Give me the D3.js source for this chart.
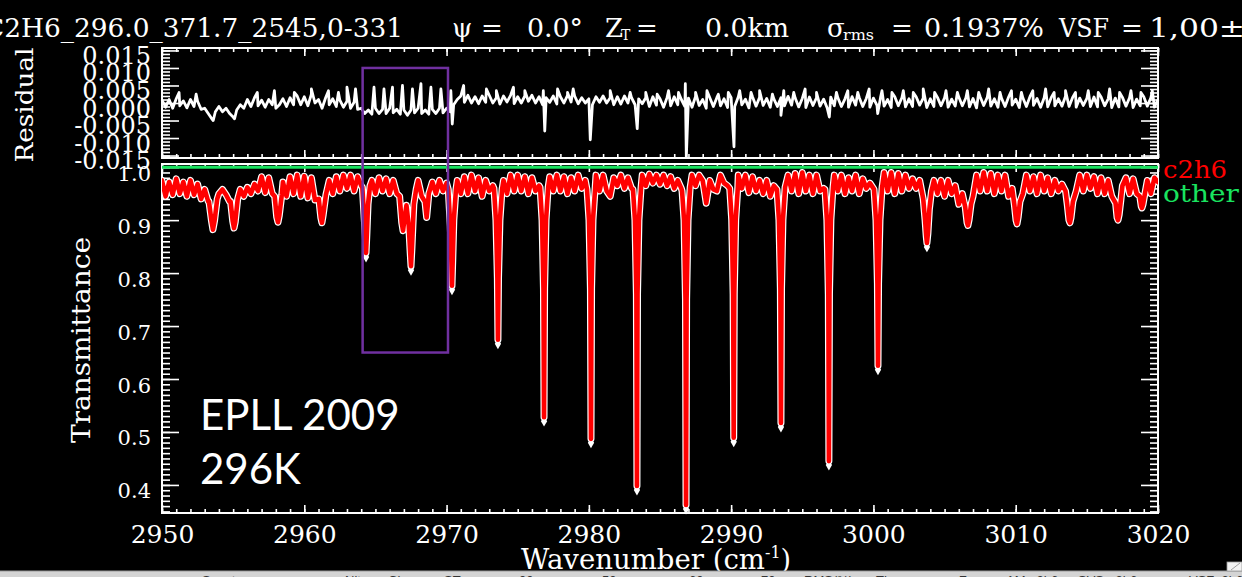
<!DOCTYPE html>
<html>
<head>
<meta charset="utf-8">
<script src="https://cdn.jsdelivr.net/npm/d3@7"></script>
<style>
  html, body { margin: 0; padding: 0; background: #000; overflow: hidden; }
  svg { display: block; }
</style>
</head>
<body>
<svg id="chart" width="1242" height="577"></svg>
<script>
// ---------------- data ----------------
const wavenumberTicks = [2950, 2960, 2970, 2980, 2990, 3000, 3010, 3020];
const transmittanceTicks = [0.4, 0.5, 0.6, 0.7, 0.8, 0.9, 1.0];
const residualTicks = [-0.015, -0.010, -0.005, 0.000, 0.005, 0.010, 0.015];

// calculated transmittance sampled every 0.25 cm-1 from 2950 to 3020
const gridStart = 2950, gridStep = 0.25;
const continuumT = [
  0.975, 0.945, 0.972, 0.948,  // 2950
  0.978, 0.950, 0.972, 0.945,  // 2951
  0.975, 0.948, 0.968, 0.940,  // 2952
  0.958, 0.935, 0.900, 0.920,  // 2953
  0.950, 0.958, 0.948, 0.935,  // 2954
  0.900, 0.920, 0.958, 0.945,  // 2955
  0.962, 0.950, 0.968, 0.955,  // 2956
  0.982, 0.952, 0.980, 0.950,  // 2957
  0.940, 0.920, 0.972, 0.945,  // 2958
  0.982, 0.950, 0.985, 0.945,  // 2959
  0.983, 0.942, 0.980, 0.938,  // 2960
  0.955, 0.910, 0.930, 0.975,  // 2961
  0.950, 0.982, 0.955, 0.985,  // 2962
  0.960, 0.985, 0.955, 0.982,  // 2963
  0.965, 0.900, 0.860, 0.975,  // 2964
  0.950, 0.980, 0.955, 0.978,  // 2965
  0.950, 0.975, 0.950, 0.945,  // 2966
  0.900, 0.900, 0.850, 0.920,  // 2967
  0.975, 0.945, 0.940, 0.950,  // 2968
  0.972, 0.950, 0.975, 0.955,  // 2969
  0.970, 0.900, 0.900, 0.975,  // 2970
  0.950, 0.982, 0.950, 0.985,  // 2971
  0.955, 0.980, 0.945, 0.975,  // 2972
  0.955, 0.965, 0.900, 0.900,  // 2973
  0.975, 0.950, 0.985, 0.955,  // 2974
  0.985, 0.955, 0.982, 0.950,  // 2975
  0.980, 0.955, 0.965, 0.900,  // 2976
  0.900, 0.982, 0.955, 0.985,  // 2977
  0.955, 0.982, 0.950, 0.980,  // 2978
  0.955, 0.985, 0.960, 0.975,  // 2979
  0.900, 0.900, 0.985, 0.955,  // 2980
  0.985, 0.955, 0.945, 0.980,  // 2981
  0.965, 0.985, 0.960, 0.980,  // 2982
  0.960, 0.900, 0.900, 0.985,  // 2983
  0.965, 0.987, 0.970, 0.985,  // 2984
  0.968, 0.985, 0.965, 0.982,  // 2985
  0.960, 0.975, 0.960, 0.900,  // 2986
  0.900, 0.985, 0.965, 0.985,  // 2987
  0.975, 0.932, 0.975, 0.958,  // 2988
  0.955, 0.985, 0.970, 0.965,  // 2989
  0.900, 0.900, 0.985, 0.960,  // 2990
  0.985, 0.952, 0.982, 0.955,  // 2991
  0.975, 0.950, 0.975, 0.945,  // 2992
  0.965, 0.955, 0.900, 0.900,  // 2993
  0.985, 0.955, 0.988, 0.950,  // 2994
  0.990, 0.955, 0.985, 0.950,  // 2995
  0.985, 0.955, 0.960, 0.900,  // 2996
  0.900, 0.985, 0.955, 0.985,  // 2997
  0.950, 0.980, 0.955, 0.985,  // 2998
  0.950, 0.978, 0.960, 0.970,  // 2999
  0.960, 0.900, 0.900, 0.990,  // 3000
  0.955, 0.990, 0.950, 0.988,  // 3001
  0.955, 0.985, 0.960, 0.978,  // 3002
  0.960, 0.975, 0.900, 0.900,  // 3003
  0.900, 0.975, 0.950, 0.975,  // 3004
  0.945, 0.975, 0.950, 0.965,  // 3005
  0.930, 0.950, 0.900, 0.900,  // 3006
  0.945, 0.985, 0.955, 0.990,  // 3007
  0.955, 0.988, 0.950, 0.985,  // 3008
  0.955, 0.985, 0.945, 0.960,  // 3009
  0.900, 0.900, 0.950, 0.985,  // 3010
  0.955, 0.982, 0.950, 0.985,  // 3011
  0.955, 0.980, 0.950, 0.975,  // 3012
  0.955, 0.968, 0.955, 0.900,  // 3013
  0.900, 0.955, 0.985, 0.955,  // 3014
  0.985, 0.960, 0.982, 0.950,  // 3015
  0.980, 0.950, 0.975, 0.945,  // 3016
  0.960, 0.900, 0.965, 0.980,  // 3017
  0.950, 0.978, 0.950, 0.940,  // 3018
  0.900, 0.975, 0.950, 0.980,  // 3019
  0.972                        // 3020
];

// absorption line cores, [wavenumber, transmittance]
const lineCores = [
  [[2953.30,0.935],[2953.47,0.900],[2953.58,0.882],[2953.69,0.898],[2953.88,0.940]],
  [[2954.82,0.935],[2954.97,0.898],[2955.06,0.885],[2955.15,0.897],[2955.32,0.940]],
  [[2957.92,0.945],[2958.06,0.906],[2958.15,0.896],[2958.24,0.908],[2958.42,0.948]],
  [[2961.02,0.940],[2961.16,0.905],[2961.24,0.895],[2961.33,0.910],[2961.52,0.948]],
  [[2964.08,0.962],[2964.22,0.900],[2964.29,0.870],[2964.34,0.838],[2964.40,0.875],[2964.48,0.930],[2964.62,0.965]],
  [[2966.70,0.945],[2966.85,0.895],[2966.94,0.880],[2967.03,0.900],[2967.18,0.928],[2967.34,0.890],[2967.44,0.840],[2967.50,0.813],[2967.57,0.850],[2967.70,0.930],[2967.86,0.958]],
  [[2968.48,0.935],[2968.60,0.905],[2968.72,0.940]],
  [[2970.12,0.958],[2970.26,0.890],[2970.33,0.830],[2970.38,0.776],[2970.44,0.830],[2970.51,0.900],[2970.66,0.958]],
  [[2973.33,0.960],[2973.47,0.900],[2973.57,0.790],[2973.61,0.674],[2973.65,0.790],[2973.75,0.900],[2973.90,0.958]],
  [[2976.57,0.962],[2976.71,0.900],[2976.81,0.770],[2976.85,0.528],[2976.89,0.770],[2976.99,0.900],[2977.14,0.962]],
  [[2979.87,0.958],[2980.01,0.900],[2980.11,0.770],[2980.15,0.487],[2980.19,0.770],[2980.29,0.900],[2980.44,0.960]],
  [[2983.10,0.958],[2983.24,0.900],[2983.34,0.760],[2983.38,0.398],[2983.42,0.760],[2983.52,0.900],[2983.67,0.962]],
  [[2986.55,0.955],[2986.69,0.900],[2986.79,0.750],[2986.83,0.362],[2986.87,0.750],[2986.97,0.900],[2987.12,0.962]],
  [[2989.90,0.960],[2990.04,0.900],[2990.14,0.760],[2990.18,0.489],[2990.22,0.760],[2990.32,0.900],[2990.47,0.962]],
  [[2993.22,0.958],[2993.36,0.900],[2993.46,0.770],[2993.50,0.517],[2993.54,0.770],[2993.64,0.900],[2993.79,0.962]],
  [[2996.59,0.958],[2996.73,0.900],[2996.83,0.760],[2996.87,0.445],[2996.91,0.760],[2997.01,0.900],[2997.16,0.962]],
  [[3000.04,0.958],[3000.18,0.900],[3000.28,0.780],[3000.32,0.625],[3000.36,0.780],[3000.46,0.900],[3000.61,0.962]],
  [[3003.50,0.940],[3003.63,0.900],[3003.71,0.870],[3003.76,0.857],[3003.83,0.875],[3003.93,0.920],[3004.08,0.955]],
  [[3006.45,0.925],[3006.58,0.895],[3006.64,0.890],[3006.72,0.900],[3006.86,0.930]],
  [[3009.90,0.930],[3010.02,0.900],[3010.09,0.893],[3010.17,0.905],[3010.30,0.935]],
  [[3013.62,0.930],[3013.74,0.900],[3013.81,0.895],[3013.89,0.905],[3014.02,0.935]],
  [[3017.02,0.932],[3017.12,0.905],[3017.19,0.900],[3017.27,0.910],[3017.40,0.940]],
  [[3018.72,0.945],[3018.82,0.926],[3018.87,0.923],[3018.95,0.930],[3019.08,0.950]]
];

// the other absorbers: flat at unit transmittance
const otherT = 1.0;

// residual (observed - calculated), units of 1e-3, same 0.25 cm-1 sampling
const residualBase = [
   0.8,-1.2, 1.0,-1.5,   1.2,-0.8, 0.6,-1.4,   1.0,-1.0, 0.5,-1.8,  // 2950-2952
  -1.5,-3.0,-4.5,-2.5,  -1.0,-2.5,-1.5,-3.0,  -4.0,-2.0,-0.5,-1.5,  // 2953-2955
   1.0,-1.0, 1.5,-0.8,   0.8,-1.2, 1.0,-0.5,  -1.5,-0.5, 1.2,-1.0,  // 2956-2958
   1.5,-0.5, 2.0,-0.5,   1.8,-0.8, 2.5, 0.0,   1.0,-1.5, 1.5,-0.5,  // 2959-2961
   1.2,-1.0, 0.8,-1.2,   0.5,-1.5, 0.2,-1.8,  -1.5,-3.0,-2.0,-3.2,  // 2962-2964
  -1.5,-3.0,-1.8,-3.0,  -1.5,-2.8,-1.8,-3.2,  -2.0,-3.5,-2.0,-2.8,  // 2965-2967
  -1.5,-3.0,-2.0,-3.2,  -1.8,-3.0,-1.5,-2.8,  -1.5,-2.5,-0.5, 1.0,  // 2968-2970
   2.0, 0.2, 2.2, 0.0,   1.8,-0.2, 2.0, 0.2,   2.2, 0.0, 1.5,-0.3,  // 2971-2973
   2.0, 0.3, 2.2,-0.2,   1.8, 0.0, 2.0, 0.5,   2.2, 0.0, 1.8,-0.5,  // 2974-2976
   1.5, 0.2, 2.0,-0.3,   1.8, 0.0, 2.2, 0.3,   2.0,-0.2, 1.5, 0.0,  // 2977-2979
   1.2,-0.5, 1.8, 0.2,   2.0, 0.0, 1.5,-0.5,   1.8,-0.3, 2.0, 0.0,  // 2980-2982
   1.5,-0.5, 1.2,-0.2,   1.5,-1.0, 1.8,-0.6,   1.2,-1.2, 1.6,-0.8,  // 2983-2985
   1.8,-0.5, 1.0,-1.0,   1.4,-1.2, 1.9,-0.7,   1.0,-1.5, 1.5,-1.0,  // 2986-2988
   1.6,-0.8, 1.2,-1.3,   1.5,-1.0, 1.7,-0.5,   1.1,-1.4, 1.8,-0.9,  // 2989-2991
   1.6,-0.7, 1.3,-1.2,   1.2,-1.0, 1.5,-0.8,   1.9,-0.6, 1.4,-1.1,  // 2992-2994
   1.3,-1.3, 1.7,-0.7,   1.5,-0.9, 1.1,-1.4,   1.7,-0.8, 1.5,-1.0,  // 2995-2997
   1.2,-1.2, 1.8,-0.6,   1.6,-1.0, 1.3,-1.2,   1.4,-0.7, 1.6,-0.9,  // 2998-3000
   1.0,-1.3, 1.8,-0.8,   1.5,-1.1, 1.2,-1.0,   1.8,-0.6, 1.4,-1.3,  // 3001-3003
   1.2,-1.0, 1.6,-0.8,   1.5,-1.2, 1.1,-0.9,   1.7,-0.8, 1.5,-1.1,  // 3004-3006
   1.3,-1.4, 1.8,-0.7,   1.6,-0.9, 1.2,-1.2,   1.4,-1.0, 1.7,-0.6,  // 3007-3009
   1.1,-1.3, 1.5,-1.0,   1.8,-0.7, 1.3,-1.2,   1.5,-1.1, 1.6,-0.8,  // 3010-3012
   1.2,-0.9, 1.9,-1.0,   1.6,-1.2, 1.4,-0.7,   1.3,-1.0, 1.7,-1.1,  // 3013-3015
   1.7,-0.8, 1.2,-1.3,   1.4,-1.1, 1.6,-0.9,   1.5,-1.3, 1.1,-0.8,  // 3016-3018
   1.8,-0.9, 1.5,-1.2,   1.0                                        // 3019-3020
];

// narrow residual features at line positions, [wavenumber, residual in 1e-3]
const residualSpikes = [
  [2951.2,3.0],[2952.4,2.5],[2953.6,-5.0],[2955.1,-4.5],[2956.7,3.0],[2957.9,3.5],
  [2959.3,3.0],[2960.5,4.0],[2961.7,3.5],[2962.4,3.0],[2963.0,4.5],[2963.6,4.0],
  [2964.9,4.5],[2965.6,4.0],[2966.2,4.5],[2966.9,5.0],[2967.6,4.0],[2968.2,5.5],
  [2968.9,4.5],[2969.6,4.0],[2970.3,3.5],[2970.4,-6.0],[2971.2,5.0],[2972.8,4.0],
  [2973.5,3.5],[2974.7,4.5],[2975.5,3.5],[2976.8,3.5],[2976.9,-8.0],[2977.8,4.0],
  [2978.5,3.0],[2978.9,4.0],[2980.1,-10.5],[2981.5,3.5],[2982.9,3.0],[2983.4,-7.3],
  [2984.0,3.0],[2984.8,2.5],[2985.6,3.5],[2986.3,3.0],[2986.78,5.5],[2986.85,-15.5],
  [2987.5,3.0],[2988.3,3.5],[2989.1,2.5],[2989.8,3.0],[2990.2,-12.5],[2990.6,3.5],
  [2991.4,3.0],[2992.0,3.5],[2992.9,2.5],[2993.5,-3.5],[2993.7,3.5],[2994.4,3.0],
  [2995.2,4.0],[2996.0,3.0],[2996.9,-4.0],[2997.4,3.0],[2998.2,3.5],[2998.9,3.0],
  [2999.7,4.0],[3000.3,-3.0],[3000.6,3.5],[3001.3,3.0],[3002.1,3.5],[3002.8,3.0],
  [3003.5,4.0],[3004.3,3.0],[3005.1,3.5],[3005.9,3.0],[3006.6,3.5],[3007.4,3.0],
  [3008.1,4.0],[3008.9,3.0],[3009.7,3.5],[3010.4,3.0],[3011.2,3.5],[3012.1,4.0],
  [3012.7,3.0],[3013.5,3.5],[3014.2,3.0],[3015.1,3.5],[3015.8,3.0],[3016.6,4.0],
  [3017.3,3.0],[3018.1,3.5],[3018.8,3.0],[3019.6,3.5]
];

// highlighted window spanning both panels
const highlightWn = [2964.1, 2970.1];
const highlightResidualTop = 0.010;
const highlightTransmittanceBottom = 0.65;

// ---------------- layout ----------------
const svg = d3.select('#chart');
const W = 1242, H = 577;
const plotL = 162, plotR = 1158;
const resTop = 48, resBot = 158;
const lowTop = 164, lowBot = 513;
const SERIF = "'DejaVu Serif', 'Liberation Serif', serif";

svg.append('rect').attr('width', W).attr('height', H).attr('fill', '#000');

const x = d3.scaleLinear().domain([2950, 3020]).range([plotL, plotR]);
const yT = d3.scaleLinear().domain([0.347, 1.006]).range([lowBot, lowTop]);
const yR = d3.scaleLinear().domain([-0.0157, 0.0157]).range([resBot, resTop]);

const gridWn = continuumT.map((_, i) => gridStart + i * gridStep);

// ---------------- axes ----------------
const minorWn = d3.range(2950, 3021);
const minorT = d3.range(35, 101).map(v => v / 100);
const minorR = d3.range(-15, 16).map(v => v / 1000);

function styleAxis(g) {
  g.attr('color', '#fff').attr('font-family', SERIF);
  g.select('.domain').remove();
  g.selectAll('.tick line').attr('stroke-width', 1.6);
  return g;
}
function placeLabels(g, size, yPx) {
  g.attr('font-size', size);
  g.selectAll('.tick text')
    .attr('fill', '#fff')
    .attr('dy', null)
    .attr('y', yPx);
}

function xAxes(yPos, dir, withLabels) {
  const gen = dir === 'up' ? d3.axisBottom : d3.axisTop;
  const g1 = svg.append('g').attr('transform', `translate(0,${yPos})`)
    .call(gen(x).tickValues(minorWn).tickSize(-4).tickSizeOuter(0).tickFormat(''));
  styleAxis(g1);
  const g2 = svg.append('g').attr('transform', `translate(0,${yPos})`)
    .call(gen(x).tickValues(wavenumberTicks).tickSize(-8).tickSizeOuter(0)
      .tickFormat(withLabels ? d3.format('d') : ''));
  styleAxis(g2);
  if (withLabels) placeLabels(g2, 25, 30);
}
xAxes(resTop, 'down', false);
xAxes(resBot, 'up', false);
xAxes(lowTop, 'down', false);
xAxes(lowBot, 'up', true);

function yAxes(scale, majors, minors, fmt, size, majLen, minLen) {
  const gl1 = svg.append('g').attr('transform', `translate(${plotL},0)`)
    .call(d3.axisLeft(scale).tickValues(minors).tickSize(-minLen).tickSizeOuter(0).tickFormat(''));
  styleAxis(gl1);
  const gl2 = svg.append('g').attr('transform', `translate(${plotL},0)`)
    .call(d3.axisLeft(scale).tickValues(majors).tickSize(-majLen).tickSizeOuter(0)
      .tickPadding(11).tickFormat(fmt));
  styleAxis(gl2);
  placeLabels(gl2, size, 13);
  const gr1 = svg.append('g').attr('transform', `translate(${plotR},0)`)
    .call(d3.axisRight(scale).tickValues(minors).tickSize(-minLen).tickSizeOuter(0).tickFormat(''));
  styleAxis(gr1);
  const gr2 = svg.append('g').attr('transform', `translate(${plotR},0)`)
    .call(d3.axisRight(scale).tickValues(majors).tickSize(-majLen).tickSizeOuter(0).tickFormat(''));
  styleAxis(gr2);
}
yAxes(yT, transmittanceTicks, minorT, d3.format('.1f'), 21, 17, 8);
yAxes(yR, residualTicks, minorR, v => (v < -1e-9 ? '-' : '') + Math.abs(v).toFixed(3), 24, 17, 8);

// panel frames
[[resTop, resBot], [lowTop, lowBot]].forEach(([t, b]) => {
  svg.append('rect').attr('x', plotL).attr('y', t)
    .attr('width', plotR - plotL).attr('height', b - t)
    .attr('fill', 'none').attr('stroke', '#fff').attr('stroke-width', 2);
});

// ---------------- spectrum ----------------
svg.append('clipPath').attr('id', 'lowClip').append('rect')
  .attr('x', plotL).attr('y', lowTop - 8).attr('width', plotR - plotL).attr('height', lowBot - lowTop + 12);

const spans = lineCores.map(c => [c[0][0], c[c.length - 1][0]]);
const basePts = continuumT
  .map((t, i) => [gridWn[i], t])
  .filter(([w]) => !spans.some(([a, b]) => w >= a - 0.02 && w <= b + 0.02));
const spectrum = basePts.concat(...lineCores).sort((a, b) => a[0] - b[0]);

const specLine = d3.line().x(d => x(d[0])).y(d => yT(d[1]));
const specG = svg.append('g').attr('clip-path', 'url(#lowClip)');

specG.append('path').datum(spectrum).attr('d', specLine)
  .attr('fill', 'none').attr('stroke', '#fff').attr('stroke-width', 7)
  .attr('stroke-linejoin', 'round').attr('stroke-linecap', 'round');

// observed points at the bottom of the strong lines
const minima = lineCores.map(c => c.reduce((m, p) => (p[1] < m[1] ? p : m)))
  .filter(p => p[1] < 0.87);
specG.selectAll('path.obs').data(minima).join('path').attr('class', 'obs')
  .attr('transform', d => `translate(${x(d[0])},${yT(d[1]) + 4})`)
  .attr('d', d3.symbol(d3.symbolDiamond, 34)())
  .attr('fill', '#fff');

specG.append('path').datum(spectrum).attr('d', specLine)
  .attr('fill', 'none').attr('stroke', '#ff0000').attr('stroke-width', 4.6)
  .attr('stroke-linejoin', 'round').attr('stroke-linecap', 'round');

// other absorbers
svg.append('line')
  .attr('x1', x(2950)).attr('x2', x(3020))
  .attr('y1', yT(otherT)).attr('y2', yT(otherT))
  .attr('stroke', '#19e35f').attr('stroke-width', 3);

// ---------------- residual ----------------
const residual = residualBase.map((r, i) => [gridWn[i], r / 1000])
  .concat(residualSpikes.map(([w, r]) => [w, r / 1000]))
  .sort((a, b) => a[0] - b[0]);
svg.append('path').datum(residual)
  .attr('d', d3.line().x(d => x(d[0])).y(d => yR(d[1])))
  .attr('fill', 'none').attr('stroke', '#fff').attr('stroke-width', 2.8)
  .attr('stroke-linejoin', 'round');

// ---------------- highlight window ----------------
svg.append('rect')
  .attr('x', x(highlightWn[0])).attr('y', yR(highlightResidualTop))
  .attr('width', x(highlightWn[1]) - x(highlightWn[0]))
  .attr('height', yT(highlightTransmittanceBottom) - yR(highlightResidualTop))
  .attr('fill', 'none').attr('stroke', '#7030a0').attr('stroke-width', 2.5);

// ---------------- text ----------------
function label(x0, y0, str, size, opts = {}) {
  const t = svg.append('text')
    .attr('transform', `translate(${x0},${y0})${opts.rotate ? ' rotate(' + opts.rotate + ')' : ''}`)
    .attr('font-family', opts.family || SERIF)
    .attr('font-size', size)
    .attr('fill', opts.fill || '#fff')
    .attr('text-anchor', opts.anchor || 'start')
    .text(str);
  if (opts.width) t.attr('textLength', opts.width).attr('lengthAdjust', 'spacingAndGlyphs');
  return t;
}

// run header
const header = [
  { t: 'C2H6_296.0_371.7_2545,0-331', x: -16, w: 419 },
  { t: 'ψ', x: 452 }, { t: '=', x: 481 }, { t: '0.0°', x: 527, w: 56 },
  { t: 'Z', x: 605 }, { t: 'T', x: 621, sub: true }, { t: '=', x: 636 },
  { t: '0.0km', x: 705, w: 84 },
  { t: 'σ', x: 827 }, { t: 'rms', x: 843, sub: true, w: 31 }, { t: '=', x: 891 },
  { t: '0.1937%', x: 924, w: 120 },
  { t: 'VSF', x: 1059, w: 50 }, { t: '=', x: 1121 }, { t: '1,00±0.01', x: 1149, w: 166 }
];
header.forEach(h => {
  if (h.sub) label(h.x, 40, h.t, 14, { width: h.w });
  else label(h.x, 37, h.t, 26, { width: h.w });
});

// axis titles
label(33, 105, 'Residual', 24, { rotate: -90, anchor: 'middle', width: 115 });
label(90, 340, 'Transmittance', 26, { rotate: -90, anchor: 'middle', width: 206 });

const xt = svg.append('text')
  .attr('x', 521).attr('y', 569)
  .attr('font-family', SERIF).attr('font-size', 27).attr('fill', '#fff');
xt.append('tspan').attr('textLength', 244).attr('lengthAdjust', 'spacingAndGlyphs').text('Wavenumber (cm');
xt.append('tspan').attr('font-size', 16).attr('dy', -11).text('-1');
xt.append('tspan').attr('dy', 11).text(')');

// legend
label(1163, 178, 'c2h6', 25, { fill: '#ff0000', width: 64 });
label(1163, 202, 'other', 25, { fill: '#19e35f', width: 76 });

// annotation
svg.append('text').attr('x', 200).attr('y', 430)
  .attr('font-family', 'Lato, "Open Sans", sans-serif').attr('font-size', 42)
  .attr('fill', '#fff').text('EPLL 2009');
svg.append('text').attr('x', 200).attr('y', 484)
  .attr('font-family', 'Lato, "Open Sans", sans-serif').attr('font-size', 42)
  .attr('fill', '#fff').text('296K');

// status bar along the bottom edge
svg.append('rect').attr('x', 0).attr('y', 571).attr('width', W).attr('height', 6).attr('fill', '#d4d4d4');
svg.append('line').attr('x1', 0).attr('x2', W).attr('y1', 571).attr('y2', 571).attr('stroke', '#9a9a9a');
const statusCols = [
  ['Spectrum', 202], ['Nit', 345], ['Ch', 388], ['ST', 444], ['00', 519], ['50', 602],
  ['60', 689], ['70', 761], ['RMS(%)', 804], ['Then', 876], ['Zmax', 959], ['AM', 1006],
  ['c2h6', 1030], ['SVS', 1078], ['c2h6', 1109], ['VSF', 1189], ['c2h6', 1215]
];
statusCols.forEach(([t, px]) => {
  svg.append('text').attr('x', px).attr('y', 585)
    .attr('font-family', 'Liberation Sans, sans-serif').attr('font-size', 13)
    .attr('fill', '#333').text(t);
});
svg.append('rect').attr('x', 1227).attr('y', 562).attr('width', 15).attr('height', 9)
  .attr('fill', '#f2f2f2').attr('stroke', '#9a9a9a').attr('stroke-width', 0.8);
svg.append('line').attr('x1', 1231).attr('y1', 570).attr('x2', 1240).attr('y2', 563)
  .attr('stroke', '#888').attr('stroke-width', 0.8);
</script>
</body>
</html>
